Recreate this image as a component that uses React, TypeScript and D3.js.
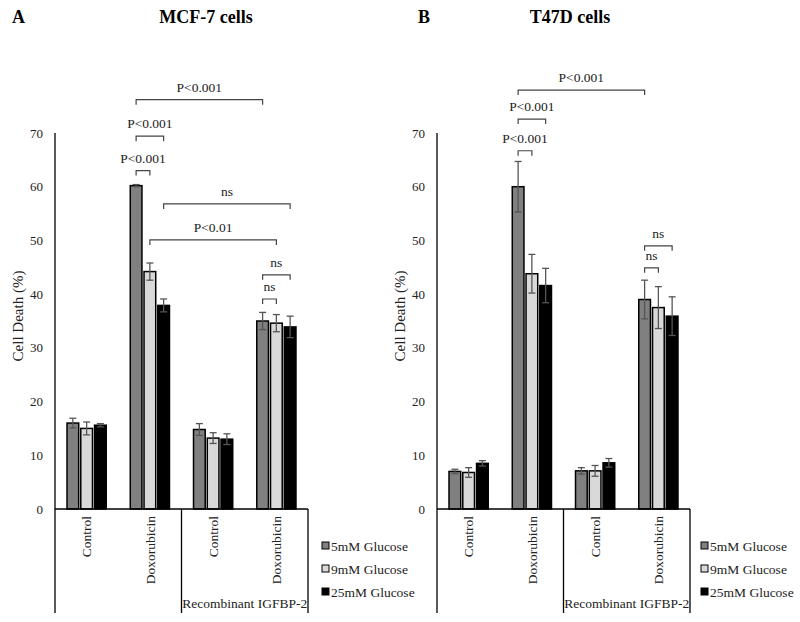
import React, { useRef, useEffect } from 'react';
import * as d3 from 'd3';

const categories = ['Control', 'Doxorubicin', 'Control', 'Doxorubicin'];
const groups = [
  { label: '', from: 0, to: 2 },
  { label: 'Recombinant IGFBP-2', from: 2, to: 4 },
];
const series = ['5mM Glucose', '9mM Glucose', '25mM Glucose'];
const seriesColors = ['#808080', '#d9d9d9', '#000000'];
const yTicks = [0, 10, 20, 30, 40, 50, 60, 70];

// MCF-7 cells
const mcfValues = [
  [16.0, 15.0, 15.6],
  [60.2, 44.2, 37.9],
  [14.8, 13.2, 13.0],
  [35.0, 34.6, 33.9],
];
const mcfErrors = [
  [0.9, 1.2, 0.3],
  [0.2, 1.6, 1.2],
  [1.1, 1.0, 1.0],
  [1.6, 1.6, 2.0],
];
const mcfBrackets = [
  { from: [1, 0], to: [3, 0], level: 76.2, label: 'P<0.001' },
  { from: [1, 0], to: [1, 2], level: 69.4, label: 'P<0.001' },
  { from: [1, 0], to: [1, 1], level: 63.0, label: 'P<0.001' },
  { from: [1, 2], to: [3, 2], level: 56.8, label: 'ns' },
  { from: [1, 1], to: [3, 1], level: 50.1, label: 'P<0.01' },
  { from: [3, 0], to: [3, 2], level: 43.6, label: 'ns' },
  { from: [3, 0], to: [3, 1], level: 39.1, label: 'ns' },
];

// T47D cells
const t47Values = [
  [7.0, 6.8, 8.5],
  [60.0, 43.8, 41.6],
  [7.1, 7.1, 8.6],
  [39.0, 37.5, 35.9],
];
const t47Errors = [
  [0.4, 0.9, 0.5],
  [4.7, 3.6, 3.2],
  [0.6, 1.0, 0.8],
  [3.6, 3.9, 3.6],
];
const t47Brackets = [
  { from: [1, 0], to: [3, 0], level: 78.0, label: 'P<0.001' },
  { from: [1, 0], to: [1, 2], level: 72.6, label: 'P<0.001' },
  { from: [1, 0], to: [1, 1], level: 66.7, label: 'P<0.001' },
  { from: [3, 0], to: [3, 2], level: 49.0, label: 'ns' },
  { from: [3, 0], to: [3, 1], level: 44.9, label: 'ns' },
];

const FONT = '"Liberation Serif", "Times New Roman", serif';

function drawPanel(svg, opts) {
  const { left, letter, letterX, title, titleX, values, errors, brackets, legendX } = opts;
  const width = 253;
  const top = 133;
  const bottom = 509;
  const axisBottom = 613;

  const g = svg.append('g');

  const y = d3.scaleLinear().domain([0, 70]).range([bottom, top]);
  const x0 = d3.scaleBand()
    .domain(d3.range(categories.length).map(String))
    .range([left, left + width])
    .paddingInner(0.38)
    .paddingOuter(0.19);
  const x1 = d3.scaleBand()
    .domain(d3.range(series.length).map(String))
    .range([0, x0.bandwidth()])
    .paddingInner(0.15);

  const barCenter = (c, s) => x0(String(c)) + x1(String(s)) + x1.bandwidth() / 2;

  // letter + title
  g.append('text').attr('x', letterX).attr('y', 23)
    .attr('font-family', FONT).attr('font-weight', 'bold').attr('font-size', 18)
    .text(letter);
  g.append('text').attr('x', titleX).attr('y', 23).attr('text-anchor', 'middle')
    .attr('font-family', FONT).attr('font-weight', 'bold').attr('font-size', 18)
    .text(title);

  // y tick labels
  g.selectAll('.ytick').data(yTicks).enter().append('text')
    .attr('x', left - 12).attr('y', d => y(d)).attr('dy', '0.35em')
    .attr('text-anchor', 'end')
    .attr('font-family', FONT).attr('font-size', 13).attr('fill', '#222')
    .text(d => d);

  // y label
  g.append('text')
    .attr('transform', `translate(${left - 37},${(top + bottom) / 2 - 5}) rotate(-90)`)
    .attr('text-anchor', 'middle').attr('dy', '0.35em')
    .attr('font-family', FONT).attr('font-size', 15).attr('fill', '#222')
    .text('Cell Death (%)');

  // bars
  values.forEach((row, c) => {
    row.forEach((v, s) => {
      g.append('rect')
        .attr('x', x0(String(c)) + x1(String(s)))
        .attr('y', y(v))
        .attr('width', x1.bandwidth())
        .attr('height', y(0) - y(v))
        .attr('fill', seriesColors[s])
        .attr('stroke', '#000')
        .attr('stroke-width', 1.5);
      const e = errors[c][s];
      const cx = barCenter(c, s);
      const eg = g.append('g').attr('stroke', '#555').attr('stroke-width', 1.3);
      eg.append('line').attr('x1', cx).attr('x2', cx).attr('y1', y(v - e)).attr('y2', y(v + e));
      eg.append('line').attr('x1', cx - 3.5).attr('x2', cx + 3.5).attr('y1', y(v - e)).attr('y2', y(v - e));
      eg.append('line').attr('x1', cx - 3.5).attr('x2', cx + 3.5).attr('y1', y(v + e)).attr('y2', y(v + e));
    });
  });

  // axes
  const ax = g.append('g').attr('stroke', '#000').attr('stroke-width', 1.3);
  ax.append('line').attr('x1', left).attr('x2', left).attr('y1', top).attr('y2', axisBottom);
  ax.append('line').attr('x1', left).attr('x2', left + width).attr('y1', bottom).attr('y2', bottom);
  groups.forEach(gr => {
    const gx = x0(String(gr.to - 1)) + x0.bandwidth() + x0.step() * x0.paddingOuter();
    ax.append('line').attr('x1', gx).attr('x2', gx).attr('y1', bottom).attr('y2', axisBottom);
  });

  // category labels
  categories.forEach((cat, c) => {
    const cx = x0(String(c)) + x0.bandwidth() / 2;
    g.append('text')
      .attr('transform', `translate(${cx},${bottom + 7}) rotate(-90)`)
      .attr('text-anchor', 'end').attr('dy', '0.35em')
      .attr('font-family', FONT).attr('font-size', 13.5).attr('fill', '#222')
      .text(cat);
  });
  groups.forEach(gr => {
    if (!gr.label) return;
    const gx0 = x0(String(gr.from)) - x0.step() * x0.paddingOuter();
    const gx1 = x0(String(gr.to - 1)) + x0.bandwidth() + x0.step() * x0.paddingOuter();
    g.append('text')
      .attr('x', (gx0 + gx1) / 2).attr('y', axisBottom - 5)
      .attr('text-anchor', 'middle')
      .attr('font-family', FONT).attr('font-size', 13.5).attr('fill', '#222')
      .text(gr.label);
  });

  // significance brackets
  brackets.forEach(b => {
    const xa = barCenter(b.from[0], b.from[1]);
    const xb = barCenter(b.to[0], b.to[1]);
    const by = y(b.level);
    g.append('path')
      .attr('d', `M${xa},${by + 5}V${by}H${xb}V${by + 5}`)
      .attr('fill', 'none').attr('stroke', '#444').attr('stroke-width', 1.2);
    g.append('text')
      .attr('x', (xa + xb) / 2).attr('y', by - 8)
      .attr('text-anchor', 'middle')
      .attr('font-family', FONT).attr('font-size', 13.5).attr('fill', '#222')
      .text(b.label);
  });

  // legend
  series.forEach((s, i) => {
    const ly = 546 + i * 23;
    g.append('rect')
      .attr('x', legendX).attr('y', ly - 4).attr('width', 7).attr('height', 7)
      .attr('fill', seriesColors[i]).attr('stroke', '#000').attr('stroke-width', 1);
    g.append('text')
      .attr('x', legendX + 9).attr('y', ly).attr('dy', '0.35em')
      .attr('font-family', FONT).attr('font-size', 13.5).attr('fill', '#222')
      .text(s);
  });
}

export default function App() {
  const svgRef = useRef(null);

  useEffect(() => {
    if (!svgRef.current) return;
    const svg = d3.select(svgRef.current);
    svg.selectAll('*').remove();

    drawPanel(svg, {
      left: 55, letter: 'A', letterX: 12, title: 'MCF-7 cells', titleX: 206,
      values: mcfValues, errors: mcfErrors, brackets: mcfBrackets, legendX: 322,
    });
    drawPanel(svg, {
      left: 437, letter: 'B', letterX: 418, title: 'T47D cells', titleX: 570,
      values: t47Values, errors: t47Errors, brackets: t47Brackets, legendX: 701,
    });
  }, []);

  return (
    <svg
      ref={svgRef}
      width={800}
      height={622}
      style={{ position: 'absolute', left: 0, top: 0, background: '#fff' }}
    />
  );
}
